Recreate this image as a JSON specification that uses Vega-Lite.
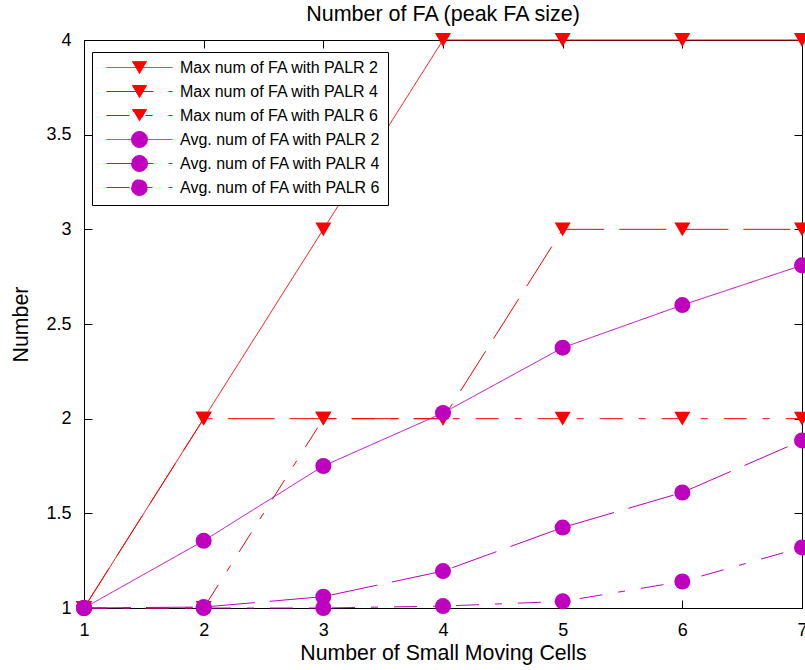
{
  "$schema": "https://vega.github.io/schema/vega-lite/v6.json",
  "width": 718,
  "height": 568,
  "autosize": {"type": "none"},
  "padding": {"left": 84, "top": 40, "right": 3, "bottom": 62},
  "background": "white",
  "title": {
    "text": "Number of FA (peak FA size)",
    "fontSize": 21.5,
    "fontWeight": "normal",
    "font": "Liberation Sans",
    "color": "black",
    "anchor": "middle",
    "baseline": "alphabetic",
    "offset": -11
  },
  "data": {
    "values": [
      {"series": "Max num of FA with PALR 2", "kind": "Max", "palr": "2", "x": 1, "y": 1},
      {"series": "Max num of FA with PALR 2", "kind": "Max", "palr": "2", "x": 2, "y": 2},
      {"series": "Max num of FA with PALR 2", "kind": "Max", "palr": "2", "x": 3, "y": 3},
      {"series": "Max num of FA with PALR 2", "kind": "Max", "palr": "2", "x": 4, "y": 4},
      {"series": "Max num of FA with PALR 2", "kind": "Max", "palr": "2", "x": 5, "y": 4},
      {"series": "Max num of FA with PALR 2", "kind": "Max", "palr": "2", "x": 6, "y": 4},
      {"series": "Max num of FA with PALR 2", "kind": "Max", "palr": "2", "x": 7, "y": 4},
      {"series": "Max num of FA with PALR 4", "kind": "Max", "palr": "4", "x": 1, "y": 1},
      {"series": "Max num of FA with PALR 4", "kind": "Max", "palr": "4", "x": 2, "y": 2},
      {"series": "Max num of FA with PALR 4", "kind": "Max", "palr": "4", "x": 3, "y": 2},
      {"series": "Max num of FA with PALR 4", "kind": "Max", "palr": "4", "x": 4, "y": 2},
      {"series": "Max num of FA with PALR 4", "kind": "Max", "palr": "4", "x": 5, "y": 3},
      {"series": "Max num of FA with PALR 4", "kind": "Max", "palr": "4", "x": 6, "y": 3},
      {"series": "Max num of FA with PALR 4", "kind": "Max", "palr": "4", "x": 7, "y": 3},
      {"series": "Max num of FA with PALR 6", "kind": "Max", "palr": "6", "x": 1, "y": 1},
      {"series": "Max num of FA with PALR 6", "kind": "Max", "palr": "6", "x": 2, "y": 1},
      {"series": "Max num of FA with PALR 6", "kind": "Max", "palr": "6", "x": 3, "y": 2},
      {"series": "Max num of FA with PALR 6", "kind": "Max", "palr": "6", "x": 4, "y": 2},
      {"series": "Max num of FA with PALR 6", "kind": "Max", "palr": "6", "x": 5, "y": 2},
      {"series": "Max num of FA with PALR 6", "kind": "Max", "palr": "6", "x": 6, "y": 2},
      {"series": "Max num of FA with PALR 6", "kind": "Max", "palr": "6", "x": 7, "y": 2},
      {"series": "Avg. num of FA with PALR 2", "kind": "Avg", "palr": "2", "x": 1, "y": 1},
      {"series": "Avg. num of FA with PALR 2", "kind": "Avg", "palr": "2", "x": 2, "y": 1.355},
      {"series": "Avg. num of FA with PALR 2", "kind": "Avg", "palr": "2", "x": 3, "y": 1.75},
      {"series": "Avg. num of FA with PALR 2", "kind": "Avg", "palr": "2", "x": 4, "y": 2.03},
      {"series": "Avg. num of FA with PALR 2", "kind": "Avg", "palr": "2", "x": 5, "y": 2.375},
      {"series": "Avg. num of FA with PALR 2", "kind": "Avg", "palr": "2", "x": 6, "y": 2.6},
      {"series": "Avg. num of FA with PALR 2", "kind": "Avg", "palr": "2", "x": 7, "y": 2.81},
      {"series": "Avg. num of FA with PALR 4", "kind": "Avg", "palr": "4", "x": 1, "y": 1},
      {"series": "Avg. num of FA with PALR 4", "kind": "Avg", "palr": "4", "x": 2, "y": 1.005},
      {"series": "Avg. num of FA with PALR 4", "kind": "Avg", "palr": "4", "x": 3, "y": 1.06},
      {"series": "Avg. num of FA with PALR 4", "kind": "Avg", "palr": "4", "x": 4, "y": 1.195},
      {"series": "Avg. num of FA with PALR 4", "kind": "Avg", "palr": "4", "x": 5, "y": 1.425},
      {"series": "Avg. num of FA with PALR 4", "kind": "Avg", "palr": "4", "x": 6, "y": 1.61},
      {"series": "Avg. num of FA with PALR 4", "kind": "Avg", "palr": "4", "x": 7, "y": 1.885},
      {"series": "Avg. num of FA with PALR 6", "kind": "Avg", "palr": "6", "x": 1, "y": 1},
      {"series": "Avg. num of FA with PALR 6", "kind": "Avg", "palr": "6", "x": 2, "y": 1.0},
      {"series": "Avg. num of FA with PALR 6", "kind": "Avg", "palr": "6", "x": 3, "y": 1.0},
      {"series": "Avg. num of FA with PALR 6", "kind": "Avg", "palr": "6", "x": 4, "y": 1.01},
      {"series": "Avg. num of FA with PALR 6", "kind": "Avg", "palr": "6", "x": 5, "y": 1.035},
      {"series": "Avg. num of FA with PALR 6", "kind": "Avg", "palr": "6", "x": 6, "y": 1.14},
      {"series": "Avg. num of FA with PALR 6", "kind": "Avg", "palr": "6", "x": 7, "y": 1.32}
    ]
  },
  "layer": [
    {
      "mark": {"type": "line", "strokeWidth": 1, "clip": false},
      "encoding": {
        "x": {
          "field": "x", "type": "quantitative",
          "scale": {"domain": [1, 7], "nice": false, "zero": false},
          "axis": {
            "orient": "bottom",
            "values": [1, 2, 3, 4, 5, 6, 7],
            "format": "d",
            "title": "Number of Small Moving Cells",
            "titleFontSize": 21.3,
            "titlePadding": 3
          }
        },
        "y": {
          "field": "y", "type": "quantitative",
          "scale": {"domain": [1, 4], "nice": false, "zero": false},
          "axis": {
            "orient": "left",
            "values": [1, 1.5, 2, 2.5, 3, 3.5, 4],
            "format": ".1~f",
            "title": "Number",
            "titleFontSize": 21.3,
            "titlePadding": 14
          }
        },
        "detail": {"field": "series", "type": "nominal"},
        "color": {
          "field": "series", "type": "nominal",
          "scale": {
            "domain": ["Max num of FA with PALR 2", "Max num of FA with PALR 4", "Max num of FA with PALR 6", "Avg. num of FA with PALR 2", "Avg. num of FA with PALR 4", "Avg. num of FA with PALR 6"],
            "range": ["#ff0000", "#ff0000", "#ff0000", "#bf00bf", "#bf00bf", "#bf00bf"]
          },
          "legend": {
            "title": null,
            "orient": "none",
            "legendX": 8,
            "legendY": 12,
            "strokeColor": "black",
            "fillColor": "white",
            "padding": 7,
            "rowPadding": 3,
            "gridAlign": "all",
            "symbolSize": 256,
            "symbolOffset": 32,
            "labelOffset": 32,
            "labelFontSize": 16,
            "labelFont": "Liberation Sans",
            "labelColor": "black",
            "labelLimit": 400,
            "encode": {
              "symbols": {
                "update": {
                  "shape": {"signal": "indexof(datum.value,'Max')==0 ? 'M -4.125 0 L 4.125 0 M -0.875 -0.75 L 0.875 -0.75 L 0 0.75 Z' : 'M -4.125 0 L 4.125 0 M -1 0 A 1 1 0 1 0 1 0 A 1 1 0 1 0 -1 0 Z'"},
                  "fill": {"signal": "indexof(datum.value,'Max')==0 ? '#ff0000' : '#bf00bf'"},
                  "stroke": {"signal": "indexof(datum.value,'Max')==0 ? '#ff0000' : '#bf00bf'"},
                  "strokeDash": {"signal": "indexof(datum.value,'PALR 4')>=0 ? [47,15] : (indexof(datum.value,'PALR 6')>=0 ? [23,16,7,16] : [1,0])"},
                  "size": {"value": 256},
                  "strokeWidth": {"value": 1},
                  "opacity": {"value": 1},
                  "fillOpacity": {"value": 1},
                  "strokeOpacity": {"value": 1}
                }
              }
            }
          }
        },
        "strokeDash": {
          "field": "palr", "type": "nominal",
          "scale": {
            "domain": ["2", "4", "6"],
            "range": [[1, 0], [47, 15], [23, 16, 7, 16]]
          },
          "legend": null
        }
      }
    },
    {
      "mark": {"type": "point", "filled": true, "size": 256, "opacity": 1, "clip": false},
      "encoding": {
        "x": {
          "field": "x", "type": "quantitative",
          "axis": {
            "orient": "top",
            "values": [1, 2, 3, 4, 5, 6, 7],
            "labels": false,
            "title": null
          }
        },
        "y": {
          "field": "y", "type": "quantitative",
          "axis": {
            "orient": "right",
            "values": [1, 1.5, 2, 2.5, 3, 3.5, 4],
            "labels": false,
            "title": null
          }
        },
        "color": {
          "field": "series", "type": "nominal",
          "legend": null
        },
        "shape": {
          "field": "kind", "type": "nominal",
          "scale": {
            "domain": ["Max", "Avg"],
            "range": ["triangle-down", "circle"]
          },
          "legend": null
        }
      }
    }
  ],
  "resolve": {"axis": {"x": "independent", "y": "independent"}},
  "config": {
    "font": "Liberation Sans",
    "view": {"stroke": "black", "strokeWidth": 1},
    "axis": {
      "grid": false,
      "domainColor": "black",
      "domainWidth": 1,
      "tickColor": "black",
      "tickWidth": 1,
      "tickSize": -8,
      "labelPadding": 21,
      "labelFontSize": 18,
      "labelFont": "Liberation Sans",
      "labelColor": "black",
      "labelFlush": false,
      "labelOverlap": false,
      "labelBound": false,
      "titleFontSize": 20,
      "titleFont": "Liberation Sans",
      "titleFontWeight": "normal",
      "titleColor": "black"
    }
  }
}
